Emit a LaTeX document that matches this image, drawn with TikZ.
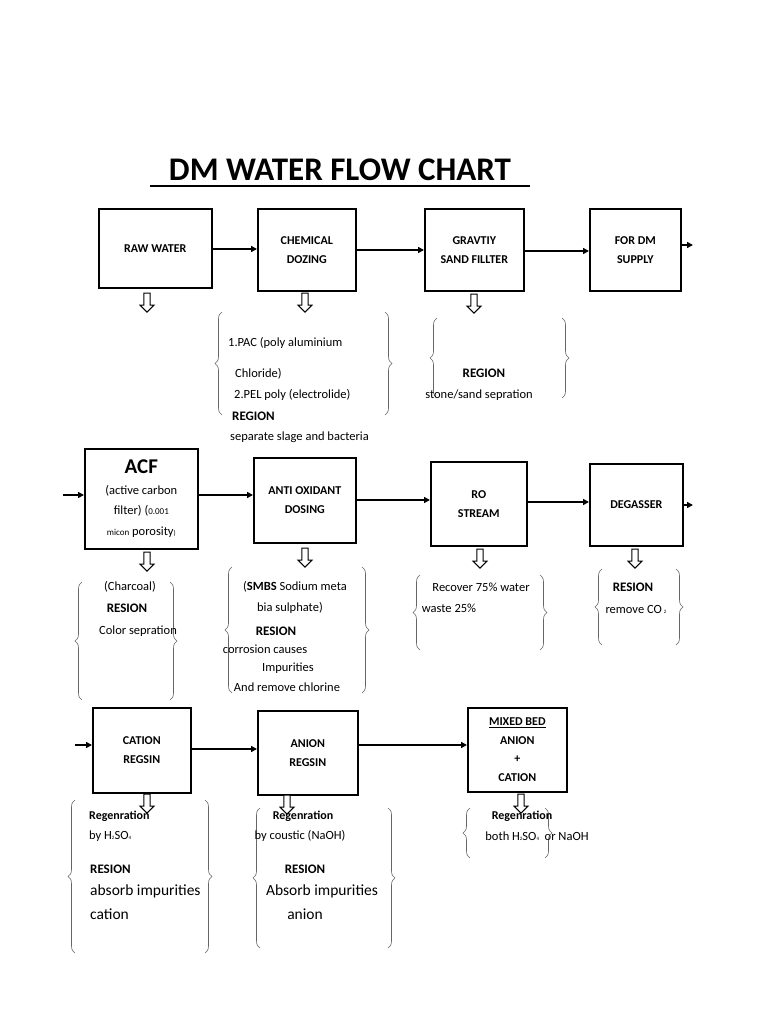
\documentclass[tikz,border=0pt]{standalone}
\usepackage{fontspec}
\setmainfont{Carlito}
\usetikzlibrary{shapes.arrows,decorations.pathreplacing,arrows.meta}
\begin{document}
\begin{tikzpicture}[x=1pt,y=-1pt,
  box/.style={draw,line width=1.6pt,anchor=north west,inner sep=0pt,align=center,font=\fontsize{12}{19}\selectfont\bfseries},
  flow/.style={-{Triangle[length=6pt,width=6pt]},line width=1.6pt},
  down/.style={draw,fill=white,line width=1pt,shape=single arrow,shape border rotate=270,minimum height=19pt,minimum width=14pt,single arrow head extend=3pt,inner sep=2pt},
  br/.style={draw=gray!80!black,line width=0.6pt,decorate,decoration={brace,amplitude=7pt}},
  t/.style={font=\fontsize{12.5}{14}\selectfont,inner sep=0pt},
  tb/.style={font=\fontsize{13}{15}\selectfont\bfseries,inner sep=0pt},
  tl/.style={font=\fontsize{15.5}{17}\selectfont,inner sep=0pt}]
\useasboundingbox[fill=white] (0,0) rectangle (768,1024);
% title
\node[font=\fontsize{33}{36}\selectfont\bfseries,inner sep=0pt] (title) at (340,170) {DM WATER FLOW CHART};
\draw[line width=1.4pt] (150,186) -- (530,186);
% row 1
\node[box,minimum width=113pt,minimum height=79pt] (raw) at (98,208) {RAW WATER};
\node[box,minimum width=98pt,minimum height=82pt] (chem) at (257,208) {CHEMICAL\\DOZING};
\node[box,minimum width=99pt,minimum height=82pt] (grav) at (424,208) {GRAVTIY\\SAND FILLTER};
\node[box,minimum width=91pt,minimum height=82pt] (dm) at (589,208) {FOR DM\\SUPPLY};
\coordinate (dmout) at (693,245);
\draw[flow] (raw.east |- 0,249) -- (chem.west |- 0,249);
\draw[flow] (chem.east |- 0,250) -- (grav.west |- 0,250);
\draw[flow] (grav.east |- 0,251) -- (dm.west |- 0,251);
\draw[flow] (dm.east |- dmout) -- (dmout);
\node[down] (d1) at (147,301) {};
\node[down] (d2) at (305,301) {};
\node[down] (d3) at (474,302) {};
\draw[br] (222,415) -- (222,312);
\draw[br] (385,312) -- (385,415);
\node[t,anchor=west] (c1) at (228,343) {1.PAC (poly aluminium};
\node[t,anchor=west] (c2) at (235,374) {Chloride)};
\node[t,anchor=west] (c3) at (234,395) {2.PEL poly (electrolide)};
\node[tb,anchor=west] (c4) at (232,416) {REGION};
\node[t,anchor=west] (c5) at (230,437) {separate slage and bacteria};
\draw[br] (437,398) -- (437,318);
\draw[br] (562,318) -- (562,398);
\node[tb] (g1) at (484,373) {REGION};
\node[t] (g2) at (479,395) {stone/sand sepration};
% row 2
\node[box,minimum width=113pt,minimum height=100pt,font=\fontsize{12.5}{20.5}\selectfont] (acf) at (84,448) {{\fontsize{21}{22}\selectfont\bfseries ACF}\\(active carbon\\filter) ({\small 0.001}\\{\small micon} porosity{\scriptsize)}};
\node[box,minimum width=102pt,minimum height=85pt] (anti) at (253,457) {ANTI OXIDANT\\DOSING};
\node[box,minimum width=96pt,minimum height=84pt] (ro) at (430,461) {RO\\STREAM};
\node[box,minimum width=93pt,minimum height=82pt] (deg) at (589,463) {DEGASSER};
\coordinate (acfin) at (63,495);
\coordinate (degout) at (693,505);
\draw[flow] (acfin) -- (acf.west |- acfin);
\draw[flow] (acf.east |- 0,495) -- (anti.west |- 0,495);
\draw[flow] (anti.east |- 0,500) -- (ro.west |- 0,500);
\draw[flow] (ro.east |- 0,502) -- (deg.west |- 0,502);
\draw[flow] (deg.east |- degout) -- (degout);
\node[down] (d4) at (147,560) {};
\node[down] (d5) at (305,556) {};
\node[down] (d6) at (480,557) {};
\node[down] (d7) at (635,557) {};
\draw[br] (82,700) -- (82,582);
\draw[br] (170,582) -- (170,700);
\node[t] (a1) at (130,587) {(Charcoal)};
\node[tb] (a2) at (127,608) {RESION};
\node[t] (a3) at (138,631) {Color sepration};
\draw[br] (232,693) -- (232,567);
\draw[br] (362,567) -- (362,693);
\node[t] (o1) at (295,587) {(\textbf{SMBS} Sodium meta};
\node[t] (o2) at (290,608) {bia sulphate)};
\node[tb] (o3) at (276,631) {RESION};
\node[t] (o4) at (265,649) {corrosion causes};
\node[t] (o5) at (288,668) {Impurities};
\node[t] (o6) at (287,687) {And remove chlorine};
\draw[br] (420,650) -- (420,575);
\draw[br] (540,575) -- (540,650);
\node[t] (r1) at (481,587) {Recover 75\% water};
\node[t] (r2) at (449,608) {waste 25\%};
\draw[br] (602,645) -- (602,569);
\draw[br] (676,569) -- (676,645);
\node[tb] (e1) at (633,587) {RESION};
\node[t] (e2) at (636,609) {remove CO\,{\tiny 2}};
% row 3
\node[box,minimum width=98pt,minimum height=85pt] (cat) at (92,707) {CATION\\REGSIN};
\node[box,minimum width=100pt,minimum height=84pt] (an) at (257,710) {ANION\\REGSIN};
\node[box,minimum width=99pt,minimum height=84pt,font=\fontsize{12}{18.5}\selectfont\bfseries] (mix) at (467,707) {\underline{MIXED BED}\\ANION\\+\\CATION};
\coordinate (catin) at (75,745);
\draw[flow] (catin) -- (cat.west |- catin);
\draw[flow] (cat.east |- 0,749) -- (an.west |- 0,749);
\draw[flow] (an.east |- 0,745) -- (mix.west |- 0,745);
\node[down] (d8) at (147,802) {};
\node[down] (d9) at (287,803) {};
\node[down] (d10) at (521,802) {};
\draw[br] (75,953) -- (75,800);
\draw[br] (205,800) -- (205,953);
\node[t,anchor=west,font=\fontsize{12}{14}\selectfont\bfseries] (k1) at (89,816) {Regenration};
\node[t,anchor=west] (k2) at (89,836) {by H{\tiny 2}SO{\tiny 4}};
\node[tb,anchor=west] (k3) at (90,869) {RESION};
\node[tl,anchor=west] (k4) at (90,891) {absorb impurities};
\node[tl,anchor=west] (k5) at (90,914) {cation};
\draw[br] (260,948) -- (260,808);
\draw[br] (388,808) -- (388,948);
\node[t,font=\fontsize{12}{14}\selectfont\bfseries] (n1) at (303,816) {Regenration};
\node[t] (n2) at (300,836) {by coustic (NaOH)};
\node[tb] (n3) at (305,869) {RESION};
\node[tl] (n4) at (322,891) {Absorb impurities};
\node[tl] (n5) at (305,914) {anion};
\draw[br] (470,858) -- (470,808);
\draw[br] (545,808) -- (545,858);
\node[t,font=\fontsize{12}{14}\selectfont\bfseries] (m1) at (522,816) {Regenration};
\node[t] (m2) at (537,836) {both H{\tiny 2}SO{\tiny 4}\ \ or NaOH};
\end{tikzpicture}
\end{document}
